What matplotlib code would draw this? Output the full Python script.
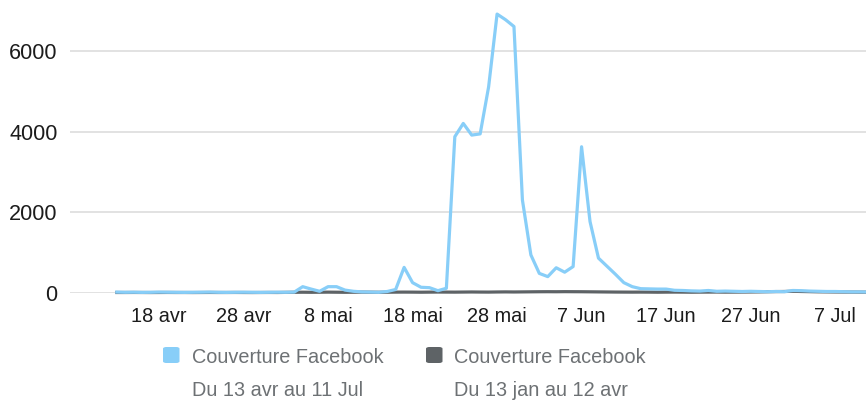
import matplotlib
matplotlib.use("Agg")
import matplotlib.pyplot as plt
from matplotlib.patches import FancyBboxPatch

plt.rcParams['font.family'] = ['Liberation Sans', 'DejaVu Sans']

# ---- data ----
tick_positions = [5, 15, 25, 35, 45, 55, 65, 75, 85]
tick_labels = ["18 avr", "28 avr", "8 mai", "18 mai", "28 mai", "7 Jun", "17 Jun", "27 Jun", "7 Jul"]
y_ticks = [0, 2000, 4000, 6000]

current_period = [
    15, 10, 12, 8, 10, 15, 12, 10, 8, 10,
    12, 15, 10, 8, 10, 12, 10, 8, 10, 12,
    10, 15, 150, 90, 35, 150, 150, 65, 35, 20,
    15, 10, 30, 80, 630, 250, 135, 125, 50, 110,
    3880, 4210, 3920, 3950, 5120, 6930, 6790, 6620, 2305, 940,
    480, 400, 620, 510, 650, 3630, 1770, 860, 660, 460,
    250, 150, 100, 95, 90, 90, 60, 55, 45, 40,
    55, 35, 40, 35, 30, 35, 30, 25, 30, 25,
    55, 50, 40, 35, 30, 30, 25, 20, 20, 15,
]
previous_period = [
    5, 5, 6, 5, 4, 5, 6, 5, 5, 4,
    5, 6, 5, 5, 6, 5, 4, 5, 6, 5,
    8, 10, 12, 10, 12, 14, 12, 10, 12, 14,
    12, 10, 12, 14, 15, 14, 12, 14, 16, 15,
    14, 16, 18, 16, 15, 18, 20, 18, 20, 22,
    24, 25, 24, 26, 25, 24, 22, 20, 18, 16,
    15, 14, 15, 14, 12, 14, 15, 14, 12, 14,
    15, 16, 14, 15, 16, 18, 20, 24, 28, 30,
    35, 30, 26, 22, 20, 18, 16, 15, 14, 12,
]
legend_titles = ["Couverture Facebook", "Couverture Facebook"]
legend_periods = ["Du 13 avr au 11 Jul", "Du 13 jan au 12 avr"]
series_colors = ["#88CEF8", "#5E6366"]

# ---- figure ----
W, H = 866, 400
fig = plt.figure(figsize=(W / 100, H / 100), dpi=100)
ax = fig.add_axes([70 / W, (H - 292.7) / H, 1 - 70 / W, 292.7 / H])

x = list(range(len(current_period)))
ax.plot(x, previous_period, color=series_colors[1], lw=2.3, solid_joinstyle='round', zorder=3)
ax.plot(x, current_period, color=series_colors[0], lw=2.3, solid_joinstyle='round', zorder=4)

ax.set_xlim(-5.54, 88.66)
ax.set_ylim(0, 7280)
ax.set_yticks(y_ticks)
ax.set_yticklabels([str(v) for v in y_ticks])
ax.set_xticks(tick_positions)
ax.set_xticklabels(tick_labels)

for s in ax.spines.values():
    s.set_visible(False)
ax.grid(axis='y', color='#dddddd', lw=1.2, zorder=0)
ax.grid(axis='x', visible=False)
ax.set_axisbelow(True)
ax.tick_params(axis='both', length=0, labelsize=14.3, colors='#1c1c1c')
ax.tick_params(axis='y', pad=9, labelsize=15.6)
ax.tick_params(axis='x', pad=10)
for ln in ax.lines:
    ln.set_clip_on(False)

# ---- legend ----
sq_x = [163, 426]
txt_x = [191.5, 453.5]
for i in range(2):
    p = FancyBboxPatch((sq_x[i] / W, (H - 363) / H), 16.5 / W, 16 / H,
                       boxstyle="round,pad=0,rounding_size=0.004",
                       transform=fig.transFigure, facecolor=series_colors[i],
                       edgecolor='none', figure=fig)
    fig.patches.append(p)
    fig.text(txt_x[i] / W, (H - 363) / H, legend_titles[i], fontsize=14.3,
             color='#6d7174', ha='left', va='baseline')
    fig.text(txt_x[i] / W, (H - 396) / H, legend_periods[i], fontsize=14.3,
             color='#6d7174', ha='left', va='baseline')

fig.savefig("out.png", dpi=100)
